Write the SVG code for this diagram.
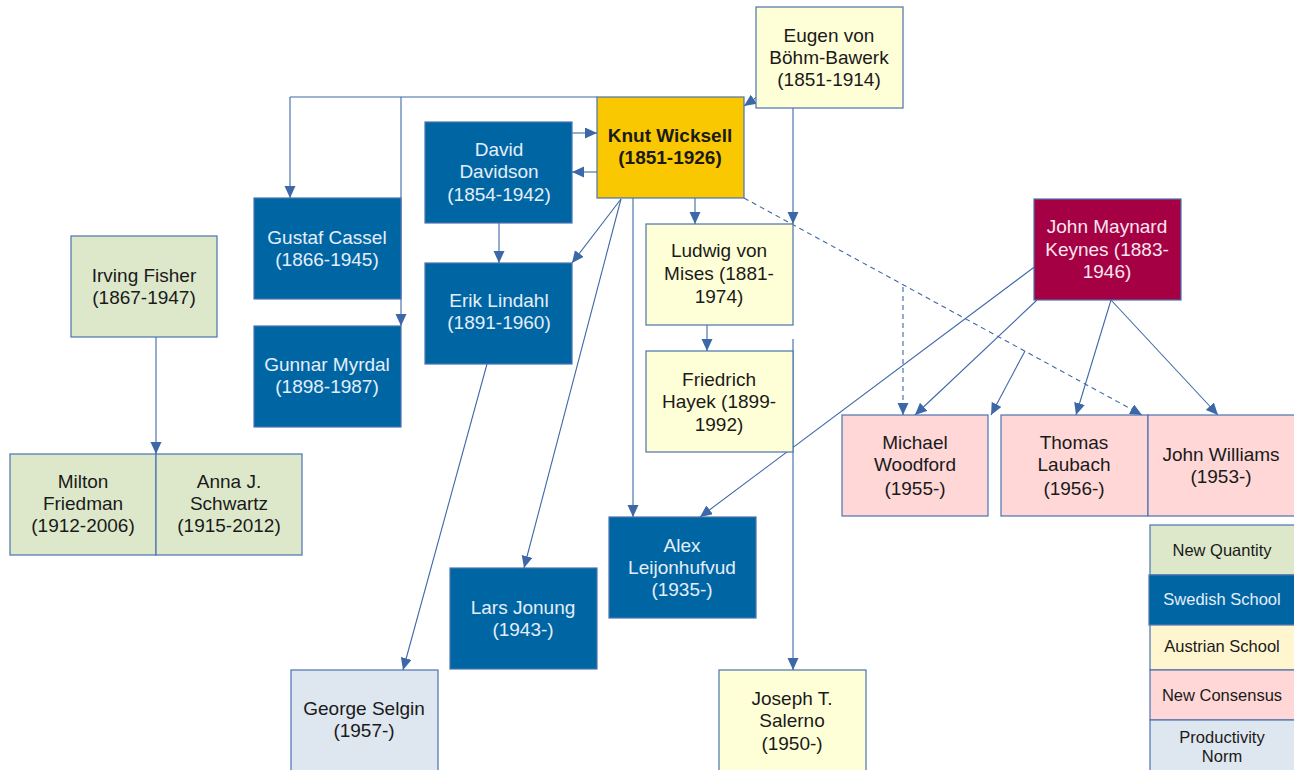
<svg xmlns="http://www.w3.org/2000/svg" width="1294" height="770" viewBox="0 0 1294 770">
<style>
text{font-family:"Liberation Sans",Arial,sans-serif;font-size:19px;text-anchor:middle;fill:#1a1a1a}
.lg text{font-size:16.5px}
.bx rect{stroke:#4a72b0;stroke-width:1.2}
.sw rect{fill:#0066a3}
.sw text{fill:#e4eefa}
.kn rect{fill:#a50044}
.kn text{fill:#f8e6ee}
.au rect{fill:#ffffd7}
.nq rect{fill:#dde8cb}
.nc rect{fill:#ffd7d7}
.pn rect{fill:#dee6ef}
.c path{fill:none;stroke:#3d68a8;stroke-width:1.1;marker-end:url(#ah)}
.c .d{stroke-dasharray:5 4}
.c .n{marker-end:none}
</style>
<defs>
<marker id="ah" markerUnits="userSpaceOnUse" markerWidth="13" markerHeight="12" refX="12" refY="5.5" orient="auto">
<path d="M0,0 L12,5.5 L0,11 z" fill="#3d68a8"/>
</marker>
</defs>
<rect x="0" y="0" width="1294" height="770" fill="#fff"/>

<g class="c" id="connectors">
<path class="n" d="M597,97 H290"/>
<path d="M290,97 V198"/>
<path d="M401,97 V326"/>
<path d="M757,97 L744,106"/>
<path d="M793,108 V224"/>
<path d="M572,133 H597"/>
<path d="M597,172 H572"/>
<path d="M499,223 V263"/>
<path d="M621,199 L572,263"/>
<path d="M621,199 L524,568"/>
<path d="M633,198 V517"/>
<path d="M695,198 V224"/>
<path class="d" d="M744,198 L1142,415"/>
<path d="M707,325 V351"/>
<path d="M793,339 V670"/>
<path d="M487,364 L403,670"/>
<path d="M156,337 V454"/>
<path d="M1037,265 L700,517"/>
<path d="M1037,300 L915,415"/>
<path d="M1111,300 L1076,415"/>
<path d="M1111,300 L1218,415"/>
<path class="d" d="M903,287 V415"/>
<path d="M1025,351 L991,415"/>
</g>

<g class="bx">
<g id="bohm-bawerk" class="au"><rect x="756" y="7" width="147" height="101"/>
<text x="829" y="42">Eugen von</text><text x="829" y="64">Böhm-Bawerk</text><text x="829" y="86">(1851-1914)</text></g>

<g id="wicksell"><rect x="597" y="97" width="147" height="101" fill="#f9c800"/>
<text x="670" y="142" font-weight="bold">Knut Wicksell</text><text x="670" y="164" font-weight="bold">(1851-1926)</text></g>

<g id="davidson" class="sw"><rect x="425" y="122" width="147" height="101"/>
<text x="499" y="156">David</text><text x="499" y="178">Davidson</text><text x="499" y="201">(1854-1942)</text></g>

<g id="cassel" class="sw"><rect x="254" y="198" width="147" height="101"/>
<text x="327" y="244">Gustaf Cassel</text><text x="327" y="266">(1866-1945)</text></g>

<g id="myrdal" class="sw"><rect x="254" y="326" width="147" height="101"/>
<text x="327" y="371">Gunnar Myrdal</text><text x="327" y="393">(1898-1987)</text></g>

<g id="lindahl" class="sw"><rect x="425" y="263" width="147" height="101"/>
<text x="499" y="307">Erik Lindahl</text><text x="499" y="329">(1891-1960)</text></g>

<g id="mises" class="au"><rect x="646" y="224" width="147" height="101"/>
<text x="719" y="257">Ludwig von</text><text x="719" y="280">Mises (1881-</text><text x="719" y="303">1974)</text></g>

<g id="hayek" class="au"><rect x="646" y="351" width="147" height="101"/>
<text x="719" y="386">Friedrich</text><text x="719" y="408">Hayek (1899-</text><text x="719" y="431">1992)</text></g>

<g id="fisher" class="nq"><rect x="71" y="236" width="146" height="101"/>
<text x="144" y="282">Irving Fisher</text><text x="144" y="304">(1867-1947)</text></g>

<g id="friedman" class="nq"><rect x="10" y="454" width="146" height="101"/>
<text x="83" y="488">Milton</text><text x="83" y="510">Friedman</text><text x="83" y="532">(1912-2006)</text></g>

<g id="schwartz" class="nq"><rect x="156" y="454" width="146" height="101"/>
<text x="229" y="488">Anna J.</text><text x="229" y="510">Schwartz</text><text x="229" y="532">(1915-2012)</text></g>

<g id="keynes" class="kn"><rect x="1034" y="199" width="147" height="101"/>
<text x="1107" y="233">John Maynard</text><text x="1107" y="256">Keynes (1883-</text><text x="1107" y="278">1946)</text></g>

<g id="woodford" class="nc"><rect x="842" y="415" width="146" height="101"/>
<text x="915" y="449">Michael</text><text x="915" y="471">Woodford</text><text x="915" y="495">(1955-)</text></g>

<g id="laubach" class="nc"><rect x="1001" y="415" width="147" height="101"/>
<text x="1074" y="449">Thomas</text><text x="1074" y="471">Laubach</text><text x="1074" y="495">(1956-)</text></g>

<g id="williams" class="nc"><rect x="1148" y="415" width="147" height="101"/>
<text x="1221" y="461">John Williams</text><text x="1221" y="483">(1953-)</text></g>

<g id="leijonhufvud" class="sw"><rect x="609" y="517" width="147" height="101"/>
<text x="682" y="552">Alex</text><text x="682" y="574">Leijonhufvud</text><text x="682" y="596">(1935-)</text></g>

<g id="jonung" class="sw"><rect x="450" y="568" width="147" height="101"/>
<text x="523" y="614">Lars Jonung</text><text x="523" y="636">(1943-)</text></g>

<g id="selgin" class="pn"><rect x="291" y="670" width="147" height="101"/>
<text x="364" y="715">George Selgin</text><text x="364" y="737">(1957-)</text></g>

<g id="salerno" class="au"><rect x="719" y="670" width="147" height="101"/>
<text x="792" y="705">Joseph T.</text><text x="792" y="727">Salerno</text><text x="792" y="750">(1950-)</text></g>

<g id="legend" class="lg">
<g id="lg-nq" class="nq"><rect x="1150" y="525" width="145" height="50"/><text x="1222" y="556">New Quantity</text></g>
<g id="lg-sw" class="sw"><rect x="1149" y="575" width="146" height="50"/><text x="1222" y="605">Swedish School</text></g>
<g id="lg-au"><rect x="1150" y="625" width="145" height="45" fill="#fff5ce"/><text x="1222" y="652">Austrian School</text></g>
<g id="lg-nc" class="nc"><rect x="1150" y="670" width="145" height="50"/><text x="1222" y="701">New Consensus</text></g>
<g id="lg-pn" class="pn"><rect x="1150" y="720" width="145" height="51"/><text x="1222" y="743">Productivity</text><text x="1222" y="762">Norm</text></g>
</g>
</g>
</svg>
